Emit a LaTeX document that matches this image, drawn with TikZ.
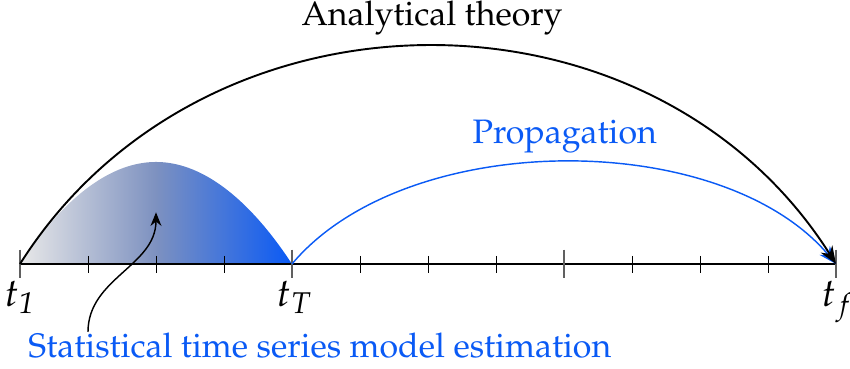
\documentclass[tikz,border=0pt]{standalone}
\usepackage[T1]{fontenc}
\usepackage{mathpazo}
\usetikzlibrary{arrows.meta}

\definecolor{propblue}{RGB}{10,90,245}
\definecolor{slate}{RGB}{125,145,192}

\tikzset{
  lbl/.style={font=\fontsize{14.2}{17}\selectfont},
  timelbl/.style={font=\fontsize{16.5}{20}\selectfont, anchor=base, yshift=-0.62cm},
  bigtick/.style={draw=gray!75!black, semithick},
  smalltick/.style={draw=black},
}

\begin{document}
\begin{tikzpicture}[>={Stealth[length=2.6mm,width=2mm]}]
                    \useasboundingbox (-0.294,-1.544) rectangle (12.206,3.882);
                    
                    % estimation window, shaded from grey to blue
                    \shade[left color=gray!18, right color=propblue, middle color=slate] (0,0) parabola bend (2,1.5) (4,0) -- cycle;
                    
                    % time axis with its ticks
                    \draw[semithick] (0,0) -- (12,0);
                    \foreach \x in {1,2,3,5,6,7,9,10,11}
                        \draw[smalltick] (\x,0.12) -- (\x,-0.13);
                    \foreach \x in {0,4,8,12}
                        \draw[bigtick] (\x,0.21) -- (\x,-0.21);
                    
                    \coordinate (t1) at (0,0);
                    \coordinate (tT) at (4,0);
                    \coordinate (tf) at (12,0);
                    \coordinate (hump) at (2,0.76);
                    \coordinate (from) at (1,-1);
                    
                    \node[timelbl] (lab1) at (t1) {$t_{\mathit{1}}$};
                    \node[timelbl, xshift=1pt] (labT) at (tT) {$t_T$};
                    \node[timelbl, xshift=0.8pt] (labf) at (tf) {$t_f$};
                    
                    % texts
                    \node[lbl, anchor=base] (theory) at (6.06,3.51) {Analytical theory};
                    \node[lbl, anchor=base, text=propblue] (prop) at (8.01,1.765) {Propagation};
                    \node[lbl, anchor=base, text=propblue] (stat) at (4.41,-1.368) {Statistical time series model estimation};
                    
                    % arcs
                    \draw[->, semithick, propblue] (tT) .. controls (5.68,2) and (10.32,2) .. (tf);
                    \draw[->, thick] (t1) .. controls (2.7,4.27) and (9.3,4.27) .. (tf);
                    \draw[-{Stealth[length=2mm,width=1.6mm]}, semithick] (from) to[out=90, in=-90] (hump);
                \end{tikzpicture}
\end{document}
